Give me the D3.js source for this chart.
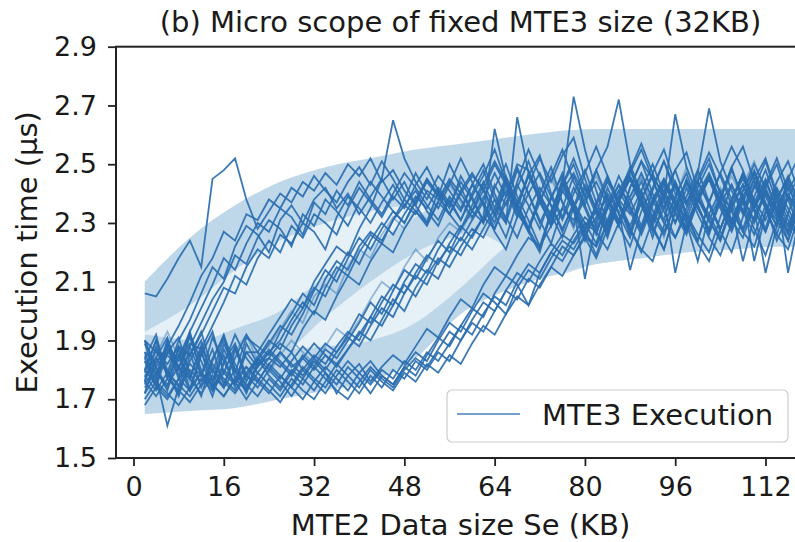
<!DOCTYPE html>
<html>
<head>
<meta charset="utf-8">
<script src="https://cdn.jsdelivr.net/npm/d3@7"></script>
<style>
  body { margin: 0; background: white; }
  svg text { font-family: "DejaVu Sans", sans-serif; fill: #1a1a1a; }
</style>
</head>
<body>
<svg id="chart" width="795" height="542"></svg>
<script>
// sizes in KB
var xValues = [2,4,6,8,10,12,14,16,18,20,22,24,26,28,30,32,34,36,38,40,42,44,46,48,50,52,54,56,58,60,
               62,64,66,68,70,72,74,76,78,80,82,84,86,88,90,92,94,96,98,100,102,104,106,108,110,112,114,116,118];

var xTicks = [0, 16, 32, 48, 64, 80, 96, 112];
var yTicks = [1.5, 1.7, 1.9, 2.1, 2.3, 2.5, 2.7, 2.9];

// early risers
var groupA = [
  [2.06,2.05,2.11,2.18,2.24,2.15,2.45,2.48,2.52,2.38, 2.28,2.34,2.40,2.37,2.44,2.41,2.47,2.43,2.50,2.46, 2.52,2.44,2.48,2.41,2.36,2.45,2.39,2.50,2.42,2.34,
   2.41,2.50,2.43,2.33,2.28,2.37,2.46,2.55,2.44,2.36, 2.27,2.21,2.30,2.42,2.51,2.45,2.34,2.25,2.33,2.44, 2.52,2.40,2.31,2.38,2.47,2.36,2.24,2.33,2.45],
  [1.86,1.82,1.88,1.95,2.03,2.12,2.18,2.27,2.24,2.33, 2.31,2.38,2.35,2.42,2.39,2.46,2.41,2.37,2.44,2.49, 2.43,2.51,2.45,2.38,2.47,2.40,2.35,2.43,2.52,2.44,
   2.36,2.27,2.21,2.32,2.43,2.52,2.44,2.53,2.59,2.45, 2.34,2.26,2.37,2.28,2.20,2.31,2.40,2.48,2.37,2.45, 2.54,2.46,2.36,2.27,2.22,2.34,2.44,2.51,2.40],
  [1.80,1.84,1.79,1.90,1.97,2.06,2.15,2.11,2.22,2.29, 2.26,2.20,2.31,2.36,2.30,2.38,2.42,2.35,2.40,2.33, 2.39,2.45,2.38,2.44,2.36,2.30,2.41,2.35,2.46,2.39,
   2.30,2.42,2.50,2.39,2.31,2.22,2.34,2.44,2.35,2.47, 2.56,2.46,2.37,2.28,2.21,2.17,2.29,2.39,2.47,2.36, 2.27,2.38,2.49,2.56,2.44,2.35,2.26,2.21,2.33],
  [1.78,1.83,1.87,1.84,1.93,2.01,2.09,2.18,2.14,2.23, 2.30,2.27,2.35,2.32,2.26,2.37,2.33,2.41,2.36,2.44, 2.38,2.33,2.40,2.47,2.42,2.36,2.31,2.39,2.34,2.43,
   2.50,2.40,2.31,2.44,2.55,2.46,2.36,2.27,2.37,2.28, 2.19,2.31,2.41,2.48,2.57,2.47,2.38,2.30,2.42,2.33, 2.25,2.19,2.30,2.41,2.50,2.42,2.33,2.45,2.53],
  [1.83,1.79,1.85,1.81,1.88,1.96,2.04,2.10,2.19,2.16, 2.25,2.31,2.28,2.22,2.33,2.29,2.38,2.34,2.29,2.37, 2.44,2.39,2.34,2.30,2.38,2.45,2.40,2.33,2.28,2.36,
   2.44,2.35,2.46,2.37,2.28,2.21,2.33,2.43,2.50,2.39, 2.29,2.42,2.33,2.25,2.38,2.47,2.55,2.43,2.33,2.26, 2.20,2.32,2.43,2.34,2.45,2.52,2.40,2.31,2.24],
  [1.90,1.86,1.82,1.88,1.85,1.92,2.00,2.08,2.06,2.15, 2.21,2.18,2.26,2.23,2.30,2.27,2.21,2.32,2.39,2.35, 2.30,2.37,2.43,2.36,2.41,2.34,2.29,2.38,2.31,2.40,
   2.48,2.38,2.30,2.42,2.51,2.40,2.32,2.45,2.35,2.25, 2.18,2.28,2.38,2.47,2.55,2.45,2.35,2.44,2.33,2.24, 2.37,2.47,2.56,2.48,2.37,2.28,2.41,2.33,2.25],
  [1.75,1.81,1.86,1.83,1.89,1.87,1.95,2.03,2.12,2.09, 2.18,2.24,2.20,2.29,2.25,2.33,2.30,2.26,2.35,2.42, 2.37,2.32,2.39,2.35,2.43,2.49,2.41,2.36,2.44,2.38,
   2.31,2.43,2.36,2.48,2.40,2.31,2.23,2.35,2.46,2.36, 2.48,2.38,2.29,2.22,2.34,2.42,2.51,2.40,2.30,2.23, 2.17,2.28,2.38,2.47,2.35,2.43,2.52,2.41,2.48]
];

var groupB = [
  [1.84,1.75,1.88,1.77,1.92,1.83,1.74,1.87,1.79,1.91, 1.88,1.85,1.93,1.99,2.06,2.02,2.11,2.17,2.14,2.22, 2.27,2.24,2.31,2.36,2.33,2.41,2.38,2.45,2.40,2.34,
   2.43,2.51,2.44,2.34,2.27,2.40,2.49,2.37,2.29,2.42, 2.35,2.25,2.38,2.48,2.39,2.29,2.21,2.34,2.44,2.36, 2.27,2.39,2.49,2.37,2.28,2.19,2.31,2.42,2.35],
  [1.80,1.90,1.78,1.87,1.73,1.85,1.93,1.79,1.88,1.76, 1.84,1.90,1.87,1.95,2.01,2.08,2.05,2.13,2.20,2.16, 2.24,2.30,2.26,2.33,2.39,2.35,2.42,2.37,2.31,2.39,
   2.46,2.55,2.44,2.35,2.47,2.38,2.29,2.43,2.34,2.24, 2.37,2.46,2.36,2.26,2.41,2.50,2.40,2.30,2.39,2.48, 2.37,2.27,2.20,2.32,2.42,2.51,2.39,2.29,2.36],
  [1.72,1.84,1.91,1.78,1.86,1.74,1.83,1.92,1.80,1.73, 1.83,1.89,1.95,1.92,1.99,2.07,2.14,2.10,2.18,2.25, 2.21,2.28,2.34,2.30,2.37,2.44,2.39,2.33,2.41,2.47,
   2.41,2.33,2.45,2.37,2.27,2.20,2.34,2.43,2.52,2.42, 2.33,2.45,2.37,2.27,2.37,2.25,2.38,2.48,2.54,2.41, 2.31,2.24,2.37,2.47,2.35,2.42,2.50,2.38,2.28],
  [1.86,1.76,1.89,1.80,1.93,1.78,1.87,1.75,1.84,1.92, 1.86,1.92,1.98,2.04,2.01,2.10,2.16,2.22,2.19,2.28, 2.35,2.45,2.65,2.52,2.44,2.38,2.46,2.41,2.35,2.43,
   2.37,2.28,2.39,2.49,2.40,2.30,2.38,2.47,2.36,2.26, 2.22,2.36,2.46,2.38,2.29,2.41,2.51,2.42,2.32,2.24, 2.37,2.47,2.38,2.28,2.39,2.48,2.37,2.27,2.41],
  [1.90,1.81,1.74,1.88,1.79,1.71,1.84,1.91,1.77,1.86, 1.81,1.86,1.90,1.97,2.03,1.99,2.08,2.15,2.12,2.20, 2.26,2.23,2.31,2.38,2.34,2.29,2.37,2.44,2.38,2.32,
   2.38,2.47,2.39,2.50,2.48,2.39,2.31,2.43,2.73,2.55, 2.41,2.30,2.39,2.49,2.38,2.28,2.21,2.34,2.45,2.36, 2.26,2.38,2.48,2.39,2.30,2.41,2.34,2.24,2.37],
  [1.76,1.87,1.79,1.71,1.83,1.90,1.76,1.85,1.74,1.89, 1.82,1.84,1.89,1.86,1.94,2.00,1.97,2.05,2.12,2.09, 2.17,2.23,2.20,2.28,2.34,2.30,2.37,2.33,2.40,2.46,
   2.42,2.33,2.25,2.37,2.46,2.53,2.40,2.32,2.42,2.35, 2.26,2.38,2.30,2.42,2.51,2.40,2.31,2.44,2.36,2.47, 2.69,2.51,2.41,2.33,2.43,2.35,2.26,2.39,2.46],
  [1.85,1.78,1.90,1.81,1.74,1.86,1.92,1.79,1.88,1.77, 1.85,1.88,1.94,2.00,1.96,2.05,2.09,2.06,2.15,2.21, 2.18,2.26,2.32,2.28,2.35,2.31,2.38,2.43,2.37,2.31,
   2.39,2.32,2.42,2.35,2.27,2.38,2.47,2.37,2.28,2.40, 2.48,2.39,2.29,2.37,2.46,2.35,2.25,2.38,2.49,2.39, 2.30,2.42,2.35,2.43,2.51,2.40,2.31,2.39,2.30]
];

var groupC = [
  [1.83,1.74,1.86,1.91,1.78,1.87,1.73,1.82,1.92,1.84, 1.79,1.84,1.81,1.86,1.80,1.85,1.82,1.88,1.93,1.90, 1.98,2.05,2.02,2.10,2.16,2.13,2.21,2.27,2.24,2.31,
   2.37,2.30,2.44,2.35,2.46,2.38,2.29,2.41,2.47,2.39, 2.48,2.56,2.72,2.50,2.40,2.32,2.43,2.36,2.28,2.40, 2.47,2.38,2.30,2.41,2.48,2.39,2.32,2.44,2.36],
  [1.76,1.88,1.79,1.72,1.85,1.93,1.80,1.74,1.87,1.78, 1.84,1.80,1.86,1.82,1.78,1.84,1.89,1.86,1.92,1.99, 1.96,2.03,2.09,2.06,2.13,2.19,2.16,2.23,2.29,2.25,
   2.32,2.28,2.37,2.43,2.36,2.28,2.39,2.46,2.37,2.30, 2.23,2.35,2.43,2.36,2.27,2.38,2.45,2.38,2.31,2.42, 2.50,2.40,2.31,2.25,2.36,2.44,2.35,2.43,2.33],
  [1.89,1.78,1.90,1.81,1.73,1.86,1.76,1.89,1.80,1.72, 1.82,1.87,1.83,1.79,1.85,1.81,1.87,1.84,1.90,1.96, 2.03,1.99,2.07,2.14,2.11,2.18,2.24,2.20,2.28,2.34,
   2.30,2.38,2.32,2.25,2.35,2.42,2.36,2.28,2.36,2.11, 2.31,2.40,2.34,2.14,2.28,2.37,2.44,2.36,2.27,2.38, 2.31,2.39,2.35,2.17,2.32,2.41,2.34,2.26,2.37],
  [1.79,1.90,1.80,1.74,1.88,1.78,1.91,1.83,1.75,1.86, 1.86,1.81,1.77,1.83,1.88,1.84,1.80,1.86,1.91,1.88, 1.95,2.01,1.98,2.06,2.12,2.09,2.17,2.22,2.19,2.26,
   2.32,2.62,2.45,2.35,2.28,2.39,2.33,2.25,2.35,2.43, 2.35,2.27,2.38,2.45,2.36,2.29,2.39,2.67,2.49,2.39, 2.31,2.24,2.35,2.43,2.34,2.27,2.38,2.45,2.38],
  [1.84,1.92,1.77,1.85,1.91,1.80,1.71,1.83,1.89,1.78, 1.76,1.82,1.86,1.81,1.84,1.89,1.85,1.81,1.87,1.93, 1.90,1.97,2.04,2.00,2.08,2.14,2.11,2.19,2.25,2.21,
   2.28,2.35,2.30,2.66,2.47,2.37,2.30,2.41,2.35,2.27, 2.36,2.44,2.37,2.29,2.38,2.46,2.39,2.13,2.30,2.38, 2.45,2.35,2.27,2.37,2.45,2.36,2.29,2.39,2.35],
  [1.77,1.85,1.93,1.84,1.76,1.89,1.81,1.74,1.86,1.92, 1.83,1.79,1.85,1.90,1.86,1.82,1.88,1.94,1.91,1.97, 2.04,2.10,2.07,2.15,2.21,2.17,2.25,2.30,2.27,2.34,
   2.39,2.33,2.43,2.36,2.29,2.38,2.45,2.37,2.30,2.40, 2.46,2.38,2.31,2.39,2.45,2.38,2.30,2.36,2.43,2.35, 2.28,2.39,2.46,2.38,2.31,2.40,2.34,2.27,2.37],
  [1.90,1.80,1.73,1.85,1.77,1.88,1.79,1.91,1.82,1.74, 1.81,1.86,1.82,1.78,1.84,1.80,1.85,1.82,1.87,1.92, 1.98,1.95,2.02,2.09,2.05,2.12,2.18,2.15,2.22,2.28,
   2.25,2.33,2.41,2.32,2.40,2.47,2.39,2.31,2.40,2.48, 2.37,2.29,2.39,2.45,2.36,2.27,2.35,2.43,2.37,2.44, 2.36,2.28,2.38,2.45,2.38,2.31,2.40,2.13,2.32]
];

// late risers
var groupD = [
  [1.72,1.78,1.61,1.74,1.80,1.76,1.82,1.77,1.73,1.79, 1.84,1.78,1.74,1.80,1.77,1.83,1.79,1.72,1.78,1.82, 1.76,1.81,1.85,1.82,1.88,1.94,1.91,1.98,2.04,2.01,
   2.09,2.15,2.12,2.19,2.25,2.22,2.29,2.35,2.31,2.38, 2.44,2.36,2.29,2.39,2.47,2.38,2.30,2.25,2.35,2.44, 2.37,2.28,2.38,2.46,2.35,2.13,2.29,2.39,2.32],
  [1.68,1.74,1.70,1.77,1.73,1.79,1.75,1.71,1.77,1.81, 1.76,1.72,1.78,1.74,1.70,1.76,1.81,1.77,1.73,1.79, 1.83,1.78,1.75,1.81,1.86,1.83,1.90,1.96,1.93,2.00,
   2.06,2.03,1.99,2.08,2.14,2.11,2.18,2.24,2.21,2.28, 2.34,2.28,2.37,2.45,2.38,2.30,2.41,2.34,2.27,2.37, 2.45,2.36,2.28,2.39,2.17,2.33,2.42,2.35,2.27],
  [1.76,1.71,1.77,1.73,1.69,1.75,1.80,1.76,1.72,1.78, 1.74,1.80,1.76,1.71,1.77,1.73,1.79,1.75,1.81,1.77, 1.72,1.78,1.75,1.81,1.78,1.85,1.91,1.88,1.95,2.01,
   1.98,2.06,2.12,2.09,2.02,2.13,2.20,2.17,2.24,2.30, 2.27,2.35,2.41,2.34,2.26,2.36,2.44,2.36,2.28,2.38, 2.33,2.25,2.36,2.43,2.35,2.27,2.38,2.46,2.37],
  [1.80,1.75,1.71,1.77,1.82,1.78,1.74,1.80,1.76,1.70, 1.76,1.82,1.78,1.74,1.80,1.76,1.72,1.78,1.83,1.79, 1.75,1.80,1.77,1.83,1.80,1.86,1.83,1.89,1.95,1.92,
   1.99,2.05,2.02,2.10,2.16,2.13,2.20,2.26,2.23,2.29, 2.35,2.29,2.38,2.46,2.38,2.31,2.40,2.33,2.26,2.38, 2.46,2.37,2.30,2.39,2.47,2.37,2.29,2.40,2.33],
  [1.74,1.79,1.75,1.81,1.77,1.72,1.78,1.74,1.80,1.75, 1.71,1.77,1.73,1.79,1.75,1.81,1.77,1.73,1.70,1.76, 1.81,1.77,1.74,1.80,1.84,1.81,1.87,1.93,1.90,1.97,
   2.03,2.00,2.07,2.13,2.10,2.17,2.23,2.19,2.26,2.32, 2.28,2.36,2.43,2.35,2.28,2.38,2.45,2.37,2.30,2.17, 2.33,2.41,2.34,2.27,2.37,2.45,2.35,2.29,2.39],
  [1.78,1.73,1.79,1.75,1.71,1.77,1.73,1.79,1.75,1.81, 1.77,1.73,1.69,1.75,1.81,1.77,1.74,1.80,1.76,1.72, 1.78,1.74,1.80,1.77,1.83,1.80,1.86,1.83,1.90,1.96,
   1.93,2.00,2.07,2.04,2.11,2.08,2.15,2.22,2.19,2.26, 2.32,2.39,2.31,2.37,2.44,2.34,2.27,2.36,2.28,2.39, 2.46,2.37,2.29,2.38,2.31,2.40,2.34,2.27,2.37],
  [1.70,1.76,1.72,1.68,1.74,1.79,1.75,1.71,1.77,1.73, 1.79,1.75,1.71,1.77,1.73,1.70,1.76,1.82,1.78,1.74, 1.80,1.76,1.73,1.79,1.76,1.82,1.79,1.85,1.82,1.89,
   1.95,1.92,1.99,2.05,2.02,2.09,2.15,2.12,2.19,2.25, 2.22,2.30,2.38,2.33,2.41,2.32,2.26,2.36,2.44,2.35, 2.28,2.37,2.43,2.34,2.26,2.36,2.31,2.24,2.35]
];

// shaded spread bands
var bandX  = [2, 10, 18, 26, 34, 42, 50, 58, 66, 74, 82, 90, 98, 106, 114, 120];
var envHi  = [2.10,2.25,2.36,2.44,2.49,2.52,2.55,2.57,2.59,2.61,2.62,2.62,2.62,2.62,2.62,2.62];
var envLo  = [1.65,1.66,1.67,1.70,1.73,1.76,1.84,1.99,2.07,2.12,2.16,2.18,2.20,2.21,2.22,2.22];
var bandALo = [1.93,2.02,2.14,2.24,2.30,2.34,2.36,2.30,2.22,2.12,2.16,2.18,2.20,2.21,2.22,2.22];
var bandBLo = [1.70,1.72,1.76,1.84,1.98,2.10,2.20,2.26,2.28,2.30,2.30,2.30,2.30,2.30,2.30,2.30];
var bandBHi = [1.85,1.88,1.94,2.00,2.12,2.22,2.32,2.40,2.45,2.48,2.50,2.50,2.50,2.50,2.50,2.50];
var bandDHi = [1.92,1.90,1.88,1.87,1.88,1.90,1.96,2.08,2.22,2.32,2.38,2.40,2.40,2.40,2.40,2.40];

var fadedSeries = ["B7", "C6"];

var dimensions = {
    width: 795,
    height: 542,
    margin: { top: 46.7, bottom: 84, right: -10, left: 116 }
};

var svg = d3.select("#chart");

var xScale = d3.scaleLinear()
               .domain([-3.1, 119])
               .range([dimensions.margin.left, dimensions.width - dimensions.margin.right]);

var yScale = d3.scaleLinear()
               .domain([1.5, 2.9])
               .range([dimensions.height - dimensions.margin.bottom, dimensions.margin.top]);

var plotLeft = dimensions.margin.left,
    plotTop = dimensions.margin.top,
    plotRight = dimensions.width - dimensions.margin.right,
    plotBottom = dimensions.height - dimensions.margin.bottom;

svg.append("defs").append("clipPath")
   .attr("id", "plotclip")
   .append("rect")
   .attr("x", plotLeft).attr("y", plotTop)
   .attr("width", plotRight - plotLeft).attr("height", plotBottom - plotTop);

var plot = svg.append("g").attr("clip-path", "url(#plotclip)");

function bandArea(lo, hi) {
    return d3.area()
             .x(function(d, i){ return xScale(bandX[i]) })
             .y0(function(d, i){ return yScale(lo[i]) })
             .y1(function(d, i){ return yScale(hi[i]) })
             .curve(d3.curveMonotoneX)(bandX);
}

// light outer envelope
plot.append("path")
    .attr("d", bandArea(envLo, envHi))
    .style("fill", "#1f77b4")
    .style("opacity", 0.11);

// darker bands drawn as one union so overlaps don't stack
var bands = plot.append("g").style("opacity", 0.2);
[[bandALo, envHi], [bandBLo, bandBHi], [envLo, bandDHi]].forEach(function(b){
    bands.append("path")
         .attr("d", bandArea(b[0], b[1]))
         .style("fill", "#1f77b4");
});

var allSeries = [];
[["A", groupA], ["B", groupB], ["C", groupC], ["D", groupD]].forEach(function(g){
    g[1].forEach(function(vals, k){
        allSeries.push({ id: g[0] + (k + 1), values: vals });
    });
});

var lineGen = d3.line()
                .x(function(d, i){ return xScale(xValues[i]) })
                .y(function(d){ return yScale(d) });

plot.append("g")
    .selectAll("path")
    .data(allSeries)
    .enter()
    .append("path")
    .attr("d", function(d){ return lineGen(d.values) })
    .style("fill", "none")
    .style("stroke", "#2a6eb0")
    .style("stroke-width", 1.8)
    .style("stroke-linejoin", "miter")
    .style("opacity", function(d){ return fadedSeries.indexOf(d.id) >= 0 ? 0.45 : 0.92 });

// axes
var xAxisGen = d3.axisBottom().scale(xScale).tickValues(xTicks).tickSize(8).tickPadding(11);
var xAxis = svg.append("g")
               .attr("transform", "translate(0," + plotBottom + ")")
               .call(xAxisGen);
xAxis.select(".domain").remove();
xAxis.selectAll("line").style("stroke", "#222").style("stroke-width", 1.8);
xAxis.selectAll("text").style("font-size", "27px").style("font-family", "DejaVu Sans").style("fill", "#1a1a1a");

var yAxisGen = d3.axisLeft().scale(yScale).tickValues(yTicks).tickSize(8).tickPadding(11)
                 .tickFormat(d3.format(".1f"));
var yAxis = svg.append("g")
               .attr("transform", "translate(" + plotLeft + ",0)")
               .call(yAxisGen);
yAxis.select(".domain").remove();
yAxis.selectAll("line").style("stroke", "#222").style("stroke-width", 1.8);
yAxis.selectAll("text").style("font-size", "27px").style("font-family", "DejaVu Sans").style("fill", "#1a1a1a");

// frame
svg.append("rect")
   .attr("x", plotLeft).attr("y", plotTop)
   .attr("width", plotRight - plotLeft).attr("height", plotBottom - plotTop)
   .style("fill", "none")
   .style("stroke", "#222")
   .style("stroke-width", 2);

// legend
var legend = svg.append("g");
legend.append("rect")
      .attr("x", 447).attr("y", 390)
      .attr("width", 341).attr("height", 52)
      .attr("rx", 5)
      .style("fill", "white").style("fill-opacity", 0.8)
      .style("stroke", "#cccccc").style("stroke-width", 1.2);
legend.append("line")
      .attr("x1", 457).attr("x2", 520)
      .attr("y1", 414).attr("y2", 414)
      .style("stroke", "#2a6eb0").style("stroke-width", 2).style("opacity", 0.65);
legend.append("text")
      .attr("x", 542).attr("y", 425)
      .style("font-size", "29px")
      .text("MTE3 Execution");

// labels
svg.append("text")
   .attr("x", (plotLeft + plotRight) / 2)
   .attr("y", 32)
   .attr("text-anchor", "middle")
   .style("font-size", "29px")
   .text("(b) Micro scope of fixed MTE3 size (32KB)");

svg.append("text")
   .attr("x", (plotLeft + plotRight) / 2)
   .attr("y", 535)
   .attr("text-anchor", "middle")
   .style("font-size", "29px")
   .text("MTE2 Data size Se (KB)");

svg.append("text")
   .attr("transform", "rotate(-90)")
   .attr("x", -(plotTop + plotBottom) / 2)
   .attr("y", 37)
   .attr("text-anchor", "middle")
   .style("font-size", "29px")
   .text("Execution time (µs)");
</script>
</body>
</html>
